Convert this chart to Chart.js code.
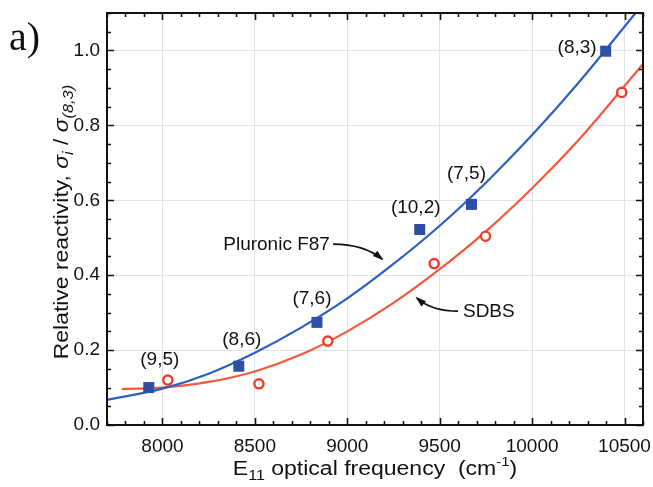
<!DOCTYPE html>
<html>
<head>
<meta charset="utf-8">
<script src="https://cdn.jsdelivr.net/npm/chart.js@4.4.1/dist/chart.umd.min.js"></script>
<style>
  html, body { margin: 0; padding: 0; background: #fff; }
  #wrap { width: 653px; height: 487px; position: relative; }
</style>
</head>
<body>
<div id="wrap"><canvas id="c" width="653" height="487"></canvas></div>
<script>
// --- data ---
const xTicks = [8000, 8500, 9000, 9500, 10000, 10500];
const yTicks = [0.0, 0.2, 0.4, 0.6, 0.8, 1.0];

// Pluronic F87 (blue squares)
const chiralities = ['(9,5)', '(8,6)', '(7,6)', '(10,2)', '(7,5)', '(8,3)'];
const pluronicX = [7926, 8413, 8836, 9392, 9672, 10398];
const pluronicY = [0.100, 0.157, 0.274, 0.522, 0.589, 0.998];

// SDBS (red open circles)
const sdbsX = [8029, 8522, 8895, 9470, 9748, 10485];
const sdbsY = [0.120, 0.110, 0.224, 0.431, 0.504, 0.888];

// fitted curves
const blueFitX = [7700, 8000, 8250, 8500, 8750, 9000, 9250, 9500, 9750, 10000, 10250, 10560];
const blueFitY = [0.067, 0.097, 0.137, 0.193, 0.260, 0.338, 0.430, 0.532, 0.647, 0.774, 0.913, 1.100];
const redFitX = [7780, 8000, 8250, 8500, 8750, 9000, 9250, 9500, 9750, 10000, 10250, 10600];
const redFitY = [0.096, 0.100, 0.115, 0.143, 0.188, 0.250, 0.326, 0.416, 0.517, 0.632, 0.760, 0.964];

const BLUE_LINE = '#2b60c2';
const BLUE_MARK = '#2d4fa6';
const RED_LINE = '#f4583c';
const RED_MARK = '#ee3b28';
const SANS = "'Liberation Sans', Arial, sans-serif";

const pts = (xs, ys) => xs.map((x, i) => ({ x, y: ys[i] }));

// draw a run of text pieces (sub/superscripts) centred on x, stretched by k along the run
function drawRich(ctx, parts, x, y, k) {
  let total = 0;
  parts.forEach(p => { ctx.font = p.font; total += ctx.measureText(p.t).width; });
  ctx.save();
  ctx.translate(x, y);
  ctx.scale(k, 1);
  let cx = -total / 2;
  parts.forEach(p => {
    ctx.font = p.font;
    ctx.fillText(p.t, cx, p.dy || 0);
    cx += ctx.measureText(p.t).width;
  });
  ctx.restore();
}

function arrow(ctx, x0, y0, cx, cy, x1, y1) {
  ctx.beginPath();
  ctx.moveTo(x0, y0);
  ctx.quadraticCurveTo(cx, cy, x1, y1);
  ctx.stroke();
  const ang = Math.atan2(y1 - cy, x1 - cx);
  const L = 9, W = 3.5;
  ctx.beginPath();
  ctx.moveTo(x1 + Math.cos(ang) * 2, y1 + Math.sin(ang) * 2);
  ctx.lineTo(x1 - Math.cos(ang) * L - Math.sin(ang) * W, y1 - Math.sin(ang) * L + Math.cos(ang) * W);
  ctx.lineTo(x1 - Math.cos(ang) * L + Math.sin(ang) * W, y1 - Math.sin(ang) * L - Math.cos(ang) * W);
  ctx.closePath();
  ctx.fill();
}

// frame, inward ticks, titles and annotations
const decor = {
  id: 'decor',
  afterDraw(chart) {
    const { ctx, chartArea: a, scales } = chart;
    const sx = scales.x, sy = scales.y;
    ctx.save();
    ctx.strokeStyle = '#111';
    ctx.fillStyle = '#111';

    // ticks on all four sides
    ctx.lineWidth = 1.6;
    ctx.beginPath();
    for (let v = 7700; v <= 10600; v += 100) {
      const px = Math.round(sx.getPixelForValue(v)) + 0.5;
      const len = v % 500 === 0 ? 7 : 4;
      ctx.moveTo(px, a.bottom); ctx.lineTo(px, a.bottom - len);
      ctx.moveTo(px, a.top); ctx.lineTo(px, a.top + len);
    }
    for (let k = 0; k <= 22; k++) {
      const v = k * 0.05;
      const py = Math.round(sy.getPixelForValue(v)) + 0.5;
      const len = k % 4 === 0 ? 7 : 4;
      ctx.moveTo(a.left, py); ctx.lineTo(a.left + len, py);
      ctx.moveTo(a.right, py); ctx.lineTo(a.right - len, py);
    }
    ctx.stroke();

    ctx.lineWidth = 2;
    ctx.strokeRect(a.left, a.top, a.right - a.left, a.bottom - a.top);

    // chirality labels next to the blue squares
    const offs = [[11, -28], [3, -26], [-5, -24], [-4, -22], [-5, -31], [-9, -3]];
    ctx.font = '19px ' + SANS;
    ctx.textBaseline = 'middle';
    chiralities.forEach((t, i) => {
      const px = sx.getPixelForValue(pluronicX[i]) + offs[i][0];
      const py = sy.getPixelForValue(pluronicY[i]) + offs[i][1];
      ctx.textAlign = i === 5 ? 'right' : 'center';
      ctx.fillText(t, px, py);
    });

    // curve labels with arrows
    const P = (x, y) => [sx.getPixelForValue(x), sy.getPixelForValue(y)];
    ctx.textAlign = 'right';
    let p = P(8906, 0.48);
    ctx.fillText('Pluronic F87', p[0], p[1]);
    ctx.textAlign = 'left';
    p = P(9626, 0.302);
    ctx.fillText('SDBS', p[0], p[1]);

    ctx.lineWidth = 1.6;
    let s = P(8923, 0.483), c = P(9090, 0.483), e = P(9188, 0.443);
    arrow(ctx, s[0], s[1], c[0], c[1], e[0], e[1]);
    s = P(9599, 0.304); c = P(9458, 0.304); e = P(9377, 0.339);
    arrow(ctx, s[0], s[1], c[0], c[1], e[0], e[1]);

    // panel letter
    ctx.textAlign = 'left';
    ctx.textBaseline = 'alphabetic';
    ctx.font = "40px 'Liberation Serif', 'Times New Roman', serif";
    ctx.fillText('a)', 9, 50);

    // x title
    drawRich(ctx, [
      { t: 'E', font: '20px ' + SANS },
      { t: '11', font: '14px ' + SANS, dy: 5 },
      { t: ' optical frequency  (cm', font: '20px ' + SANS },
      { t: '-1', font: '13px ' + SANS, dy: -9 },
      { t: ')', font: '20px ' + SANS }
    ], (a.left + a.right) / 2, 475, 1.15);

    // y title
    ctx.translate(68, 222);
    ctx.rotate(-Math.PI / 2);
    drawRich(ctx, [
      { t: 'Relative reactivity, ', font: '21px ' + SANS },
      { t: 'σ', font: 'italic 21px ' + SANS },
      { t: 'i', font: 'italic 15px ' + SANS, dy: 5 },
      { t: ' / ', font: '21px ' + SANS },
      { t: 'σ', font: 'italic 21px ' + SANS },
      { t: '(8,3)', font: 'italic 15px ' + SANS, dy: 5 }
    ], 0, 0, 1.09);
    ctx.restore();
  }
};

new Chart(document.getElementById('c'), {
  type: 'scatter',
  data: {
    datasets: [
      {
        label: 'Pluronic F87',
        data: pts(pluronicX, pluronicY),
        pointStyle: 'rect',
        pointRadius: 7.8,
        backgroundColor: BLUE_MARK,
        borderColor: BLUE_MARK,
        borderWidth: 0,
        order: 0
      },
      {
        label: 'SDBS',
        data: pts(sdbsX, sdbsY),
        pointStyle: 'circle',
        pointRadius: 4.6,
        backgroundColor: '#fff',
        borderColor: RED_MARK,
        borderWidth: 2.4,
        order: 0
      },
      {
        label: 'Pluronic fit',
        data: pts(blueFitX, blueFitY),
        showLine: true,
        pointRadius: 0,
        borderColor: BLUE_LINE,
        borderWidth: 2.2,
        cubicInterpolationMode: 'monotone',
        order: 1
      },
      {
        label: 'SDBS fit',
        data: pts(redFitX, redFitY),
        showLine: true,
        pointRadius: 0,
        borderColor: RED_LINE,
        borderWidth: 2.2,
        cubicInterpolationMode: 'monotone',
        order: 1
      }
    ]
  },
  options: {
    responsive: false,
    animation: false,
    layout: { padding: { top: 13, right: 10, left: 0, bottom: 0 } },
    plugins: { legend: { display: false }, tooltip: { enabled: false } },
    scales: {
      x: {
        type: 'linear',
        min: 7700,
        max: 10600,
        afterBuildTicks: sc => { sc.ticks = xTicks.map(v => ({ value: v })); },
        afterFit: sc => { sc.height = 62; sc.paddingLeft = 0; sc.paddingRight = 0; },
        grid: { color: '#dfe3ea', lineWidth: 1, drawTicks: false },
        border: { display: false },
        ticks: {
          padding: 10,
          color: '#111',
          font: { family: SANS, size: 19 },
          maxRotation: 0,
          callback: v => String(v)
        }
      },
      y: {
        type: 'linear',
        min: 0,
        max: 1.1,
        afterBuildTicks: sc => { sc.ticks = yTicks.map(v => ({ value: v })); },
        afterFit: sc => { sc.width = 107; sc.paddingTop = 0; sc.paddingBottom = 0; },
        grid: { color: '#dfe3ea', lineWidth: 1, drawTicks: false },
        border: { display: false },
        ticks: {
          padding: 7,
          color: '#111',
          font: { family: SANS, size: 19 },
          callback: v => v.toFixed(1)
        }
      }
    }
  },
  plugins: [decor]
});
</script>
</body>
</html>
